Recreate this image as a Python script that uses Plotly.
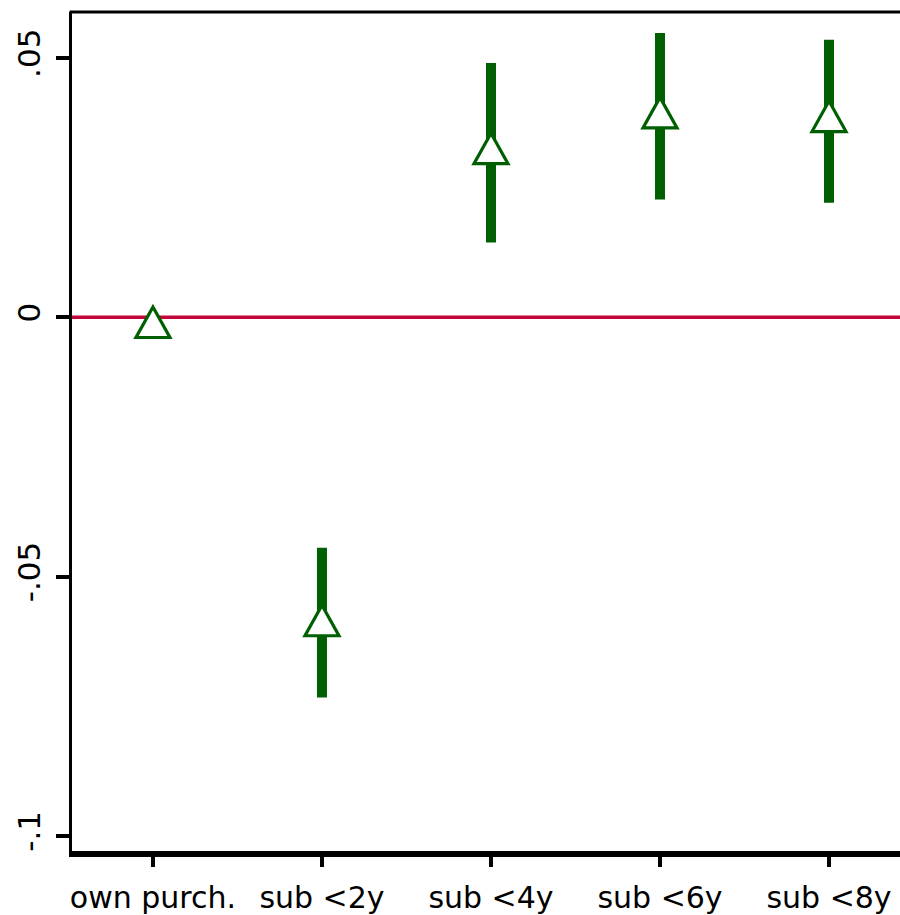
import plotly.graph_objects as go

# Point estimates with confidence bounds, by purchase/subsidy group
categories = ["own purch.", "sub <2y", "sub <4y", "sub <6y", "sub <8y"]
estimate = [-0.001, -0.0585, 0.0325, 0.0394, 0.0387]
ci_upper = [-0.001, -0.0444, 0.0490, 0.0548, 0.0535]
ci_lower = [-0.001, -0.0733, 0.0144, 0.0227, 0.0221]

ytick_vals = [0.05, 0.0, -0.05, -0.1]
ytick_text = [".05", "0", "-.05", "-.1"]

GREEN = "#005f00"
RED = "#c4053a"

xpos = list(range(len(categories)))
err_plus = [u - e for u, e in zip(ci_upper, estimate)]
err_minus = [e - l for e, l in zip(estimate, ci_lower)]

fig = go.Figure()

# Confidence intervals as thick capless error bars
fig.add_trace(go.Scatter(
    x=xpos, y=estimate, mode="markers",
    marker=dict(size=1, color="rgba(0,0,0,0)"),
    error_y=dict(type="data", array=err_plus, arrayminus=err_minus,
                 symmetric=False, color=GREEN, thickness=10, width=0),
    hoverinfo="skip", showlegend=False,
))

shapes = [
    # zero reference line
    dict(type="line", xref="paper", yref="y", x0=0, x1=1, y0=0, y1=0,
         line=dict(color=RED, width=3.5), layer="below"),
    # top frame line
    dict(type="line", xref="paper", yref="paper", x0=-0.003, x1=1, y0=1, y1=1,
         line=dict(color="black", width=3), layer="above"),
]

# Hollow triangle markers anchored at each estimate
tri_path = "M -17,-15 L 17,-15 L 0,15.5 Z"
for xp, est in zip(xpos, estimate):
    shapes.append(dict(
        type="path", xref="x", yref="y",
        xsizemode="pixel", ysizemode="pixel",
        xanchor=xp, yanchor=est, path=tri_path,
        fillcolor="white", line=dict(color=GREEN, width=3.2), layer="above",
    ))

fig.update_layout(
    width=900, height=915,
    margin=dict(l=72, r=0, t=12, b=62),
    paper_bgcolor="white", plot_bgcolor="white",
    showlegend=False,
    shapes=shapes,
    font=dict(family="DejaVu Sans", color="black"),
    xaxis=dict(
        range=[-0.479, 4.42],
        tickmode="array", tickvals=xpos, ticktext=categories,
        showgrid=False, zeroline=False,
        showline=True, linecolor="black", linewidth=6,
        ticks="outside", ticklen=10, tickwidth=4, tickcolor="black",
        ticklabelstandoff=5,
        tickfont=dict(size=30, family="DejaVu Sans", color="black"),
    ),
    yaxis=dict(
        range=[-0.10288, 0.05885],
        tickmode="array", tickvals=ytick_vals, ticktext=ytick_text,
        tickangle=-90,
        showgrid=False, zeroline=False,
        showline=True, linecolor="black", linewidth=3,
        ticks="outside", ticklen=13, tickwidth=4, tickcolor="black",
        ticklabelstandoff=4,
        tickfont=dict(size=31, family="DejaVu Sans", color="black"),
    ),
)

fig.write_html("out.html")
